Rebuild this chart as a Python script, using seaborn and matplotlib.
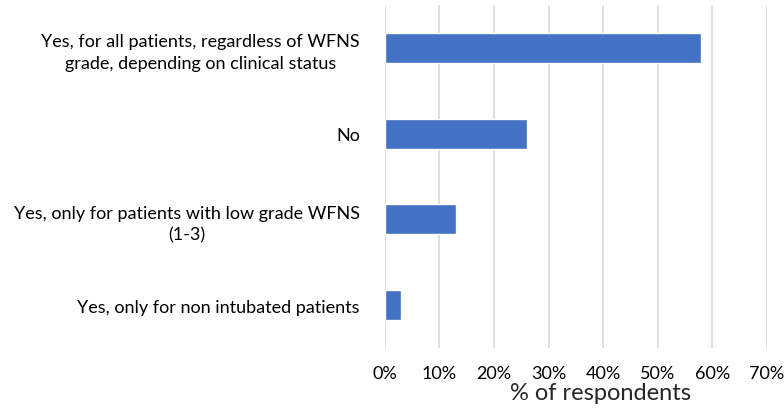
import matplotlib
matplotlib.use("Agg")
import matplotlib.pyplot as plt
import seaborn as sns
import pandas as pd
from matplotlib.ticker import PercentFormatter

# Data
answers = [
    "Yes, for all patients, regardless of WFNS\ngrade, depending on clinical status",
    "No",
    "Yes, only for patients with low grade WFNS\n(1-3)",
    "Yes, only for non intubated patients",
]
percent = [58, 26, 13, 3]

df = pd.DataFrame({"answer": answers, "percent": percent})

sns.set_style("white")
plt.rcParams['font.family'] = ['Lato', 'DejaVu Sans']

fig = plt.figure(figsize=(7.84, 4.10), dpi=100)
ax = fig.add_axes([0.491, 0.149, 0.487, 0.836])

sns.barplot(data=df, y="answer", x="percent", color="#4472C4",
            width=0.35, saturation=1, ax=ax)

ax.set_xlim(0, 70)
ax.set_xticks(range(0, 71, 10))
ax.xaxis.set_major_formatter(PercentFormatter(decimals=0))
ax.grid(axis="x", color="#D9D9D9", linewidth=1.2)
ax.set_axisbelow(True)
for s in ax.spines.values():
    s.set_visible(False)
ax.tick_params(axis="both", length=0, labelsize=13, colors="black")
ax.tick_params(axis="x", pad=12)
ax.tick_params(axis="y", pad=18)
ax.set_yticks(range(len(answers)))
ax.set_yticklabels(answers, linespacing=1.4, multialignment="center")

ax.set_ylabel("")
ax.set_xlabel("% of respondents", fontsize=17)
ax.xaxis.set_label_coords(0.565, -0.1)

fig.savefig("out.png", dpi=100)
